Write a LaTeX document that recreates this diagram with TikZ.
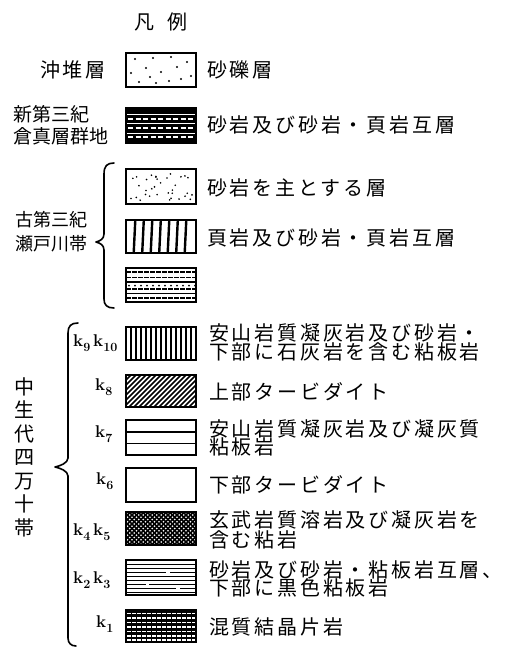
\documentclass[tikz,border=0pt]{standalone}
\usepackage{fontspec}
\newfontfamily\jp{Noto Sans CJK JP}[LetterSpace=14]
\newfontfamily\jpn{Noto Sans CJK JP}
\newfontfamily\lmr{Latin Modern Roman}
\newcommand{\ks}[1]{\raisebox{-5pt}{\lmr\bfseries\fontsize{12.5}{13}\selectfont #1}}
\newcommand{\boxpat}[3]{%
  \begin{scope}[shift={(#1.north west)}]
    \clip (0,0) rectangle (70,#2);
    #3
  \end{scope}
  \draw[edge] (#1.north west) rectangle (#1.south east);}
\begin{document}
\begin{tikzpicture}[x=1pt,y=-1pt,
  lbox/.style={draw,line width=1.8pt,minimum width=70pt,inner sep=0pt,outer sep=0pt,fill=white},
  desc/.style={anchor=west,inner sep=0pt,align=left,font=\jp\fontsize{20}{18.5}\selectfont},
  klab/.style={anchor=base west,inner sep=0pt,font=\lmr\bfseries\fontsize{17}{18}\selectfont},
  brace/.style={line width=1.6pt,line cap=round,line join=round},
  edge/.style={line width=1.8pt}]
\useasboundingbox (0,0) rectangle (507,648);
\fill[white] (0,0) rectangle (507,648);

% title
\node[font=\jpn\fontsize{20}{20}\selectfont,inner sep=0pt] (title) at (161,22) {凡\hspace{13pt}例};

% boxes
\node[lbox,minimum height=34pt] (b1) at (161,70) {};
\node[lbox,minimum height=35pt] (b2) at (161,125.5) {};
\node[lbox,minimum height=35pt] (b3) at (161,186.5) {};
\node[lbox,minimum height=33pt] (b4) at (161,236.5) {};
\node[lbox,minimum height=34pt] (b5) at (161,285) {};
\node[lbox,minimum height=33pt] (b6) at (161,343.5) {};
\node[lbox,minimum height=32pt] (b7) at (161,391) {};
\node[lbox,minimum height=35pt] (b8) at (161,437.5) {};
\node[lbox,minimum height=34pt] (b9) at (161,485) {};
\node[lbox,minimum height=33pt] (b10) at (161,528.5) {};
\node[lbox,minimum height=35pt] (b11) at (161,577.5) {};
\node[lbox,minimum height=32pt] (b12) at (161,626) {};

% patterns
\boxpat{b1}{34}{%
  \foreach \p in {(9,6),(27,5),(45,4),(61,9),(5,20),(20,15),(35,19),(51,14),(65,23),(13,29),(30,30),(43,28),(55,26),(24,24)}
    \fill \p circle (1.1);}
\boxpat{b2}{35}{%
  \fill (0,0) rectangle (70,35);
  \foreach \yy in {6,15.5,25}{\draw[white,line width=0.8pt] (0,\yy)--(70,\yy);}
  \foreach \yy in {10.5,20,29}{\draw[white,line width=2pt,dash pattern=on 5pt off 2.5pt] (2,\yy)--(70,\yy);}}
\boxpat{b3}{35}{%
  \pgfmathsetseed{7}
  \foreach \i in {1,...,34}{\pgfmathsetmacro\rx{3+64*rnd}\pgfmathsetmacro\ry{3+29*rnd}\fill (\rx,\ry) circle (0.9);}}
\boxpat{b4}{33}{%
  \foreach \xx in {8.5,17,25.5,34,42.5,51,59.5}{\draw[line width=2.4pt] (\xx+0.8,0)--(\xx-0.8,33);}}
\boxpat{b5}{34}{%
  \foreach \yy in {4,9.5,21,30}{\draw[line width=1.7pt,dash pattern=on 4.5pt off 1.5pt] (0,\yy)--(70,\yy);}
  \foreach \yy in {14,25.5}{\draw[line width=1.2pt] (0,\yy)--(70,\yy);}
  \foreach \xx in {3,9,...,69}{\fill (\xx,17.5) circle (1);}}
\boxpat{b6}{33}{%
  \foreach \xx in {5,10,...,65}{\draw[line width=1.5pt] (\xx,0)--(\xx,33);}}
\boxpat{b7}{32}{%
  \foreach \xx in {-32,-27,...,70}{\draw[line width=1.7pt] (\xx,32)--(\xx+32,0);}}
\boxpat{b8}{35}{%
  \draw[line width=1.6pt] (0,11.7)--(70,11.7) (0,23.3)--(70,23.3);}
\boxpat{b9}{34}{}
\boxpat{b10}{33}{%
  \foreach \xx in {-33,-28.5,...,70}{\draw[line width=1.7pt] (\xx,33)--(\xx+33,0); \draw[line width=1.7pt] (\xx,0)--(\xx+33,33);}}
\boxpat{b11}{35}{%
  \foreach \yy in {4,8,12,16,20,24,28,32}{\draw[line width=1pt] (0,\yy)--(70,\yy);}
  \draw[white,line width=1.4pt] (40,12)--(44,12) (20,24)--(23,24) (50,28)--(54,28);}
\boxpat{b12}{32}{%
  \fill (0,0) rectangle (70,32);
  \foreach \yy in {3.5,8,12.5,17,21.5,26,30}{\draw[white,line width=1.4pt,dash pattern=on 3.5pt off 1.5pt] (1,\yy)--(70,\yy);}}

% descriptions
\node[desc] (t1) at (207,70) {砂礫層};
\node[desc] (t2) at (207,125) {砂岩及び砂岩・頁岩互層};
\node[desc] (t3) at (207,188) {砂岩を主とする層};
\node[desc] (t4) at (207,238) {頁岩及び砂岩・頁岩互層};
\node[desc] (t6) at (209,342.5) {安山岩質凝灰岩及び砂岩・\\下部に石灰岩を含む粘板岩};
\node[desc] (t7) at (209,392) {上部タービダイト};
\node[desc] (t8) at (209,438) {安山岩質凝灰岩及び凝灰質\\粘板岩};
\node[desc] (t9) at (209,485) {下部タービダイト};
\node[desc] (t10) at (209,530) {玄武岩質溶岩及び凝灰岩を\\含む粘岩};
\node[desc] (t11) at (209,579) {砂岩及び砂岩・粘板岩互層、\\下部に黒色粘板岩};
\node[desc] (t12) at (209,627) {混質結晶片岩};

% left labels
\node[font=\jp\fontsize{20}{20}\selectfont,anchor=east,inner sep=0pt] (l1) at (106,70) {沖堆層};
\node[font=\jpn\fontsize{19}{22}\selectfont,anchor=west,align=left,inner sep=0pt] (l2) at (13,125) {新第三紀\\倉真層群地};
\node[font=\jpn\fontsize{18}{24}\selectfont,anchor=west,align=left,inner sep=0pt] (l3) at (15,232) {古第三紀\\瀬戸川帯};
\node[font=\jpn\fontsize{20}{23.5}\selectfont,align=center,inner sep=0pt] (l4) at (24,457) {中\\生\\代\\四\\万\\十\\帯};

% k labels
\node[klab] (k910) at (73,346) {k\ks{9}\,k\ks{10}};
\node[klab] (k8) at (95,390.5) {k\ks{8}};
\node[klab] (k7) at (95,437) {k\ks{7}};
\node[klab] (k6) at (96,484) {k\ks{6}};
\node[klab] (k45) at (73,535) {k\ks{4}\,k\ks{5}};
\node[klab] (k23) at (73,583) {k\ks{2}\,k\ks{3}};
\node[klab] (k1) at (96,627) {k\ks{1}};

% braces
\draw[brace] (114,163) .. controls (107,163) and (104,166) .. (104,174) -- (104,234)
  .. controls (104,239) and (100,241) .. (96,242) .. controls (100,243) and (104,245) .. (104,250)
  -- (104,299) .. controls (104,305) and (107,308) .. (114,308);
\draw[brace] (78,323) .. controls (71,323) and (68,326) .. (68,333) -- (68,458)
  .. controls (68,463) and (60,466) .. (55,467) .. controls (60,468) and (68,471) .. (68,476)
  -- (68,638) .. controls (68,643) and (71,646) .. (76,646);
\end{tikzpicture}
\end{document}
